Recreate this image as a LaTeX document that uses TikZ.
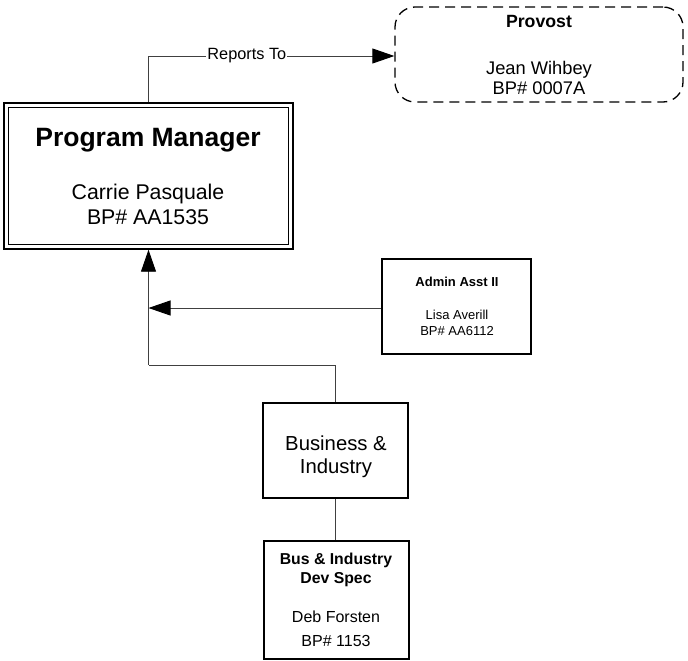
\documentclass[tikz,border=0pt]{standalone}
\usepackage{fontspec}
\setmainfont{Liberation Sans}
\usetikzlibrary{arrows.meta}
\tikzset{
  box/.style={draw=black, line width=1.6bp, inner sep=0pt},
  pmbox/.style={draw=black, line width=1.4bp, inner sep=0pt},
  provbox/.style={draw=black, line width=1.3bp, dash pattern=on 10bp off 6bp, rounded corners=20bp, inner sep=0pt},
  conn/.style={draw=black!75, line width=0.9bp},
  tip/.style={-{Triangle[length=22bp,width=15bp,color=black]}},
  txt/.style={anchor=base, inner sep=0pt, font=#1},
}
\begin{document}
\begin{tikzpicture}[x=1bp,y=-1bp]
\useasboundingbox (0,0) rectangle (688,661);
% boxes
\node[pmbox, minimum width=289bp, minimum height=146bp] (pm) at (148.5,176) {};
\draw[line width=1.4bp] ([xshift=5bp,yshift=-5bp]pm.north west) rectangle ([xshift=-5bp,yshift=5bp]pm.south east);
\node[provbox, minimum width=288bp, minimum height=95bp] (prov) at (539,54.5) {};
\node[box, minimum width=149bp, minimum height=95bp] (admin) at (456.5,306.5) {};
\node[box, minimum width=145bp, minimum height=95bp] (bi) at (335.5,450.5) {};
\node[box, minimum width=145bp, minimum height=118bp] (dev) at (336.5,600) {};
% texts
\node[txt={\fontsize{26.5bp}{30bp}\selectfont\bfseries}] (pmt) at (148,146) {Program Manager};
\node[txt={\fontsize{21.3bp}{25bp}\selectfont}] (pmn) at (148,199) {Carrie Pasquale};
\node[txt={\fontsize{21.3bp}{25bp}\selectfont}] (pmb) at (148,224) {BP\# AA1535};
\node[txt={\fontsize{17.7bp}{21bp}\selectfont\bfseries}] (prt) at (539,28) {Provost};
\node[txt={\fontsize{18.3bp}{21bp}\selectfont}] (prn) at (539,75) {Jean Wihbey};
\node[txt={\fontsize{18.3bp}{21bp}\selectfont}] (prb) at (539,95) {BP\# 0007A};
\node[txt={\fontsize{13bp}{15bp}\selectfont\bfseries}] (adt) at (457,286) {Admin Asst II};
\node[txt={\fontsize{13bp}{15bp}\selectfont}] (adn) at (457,319) {Lisa Averill};
\node[txt={\fontsize{13bp}{15bp}\selectfont}] (adb) at (457,335) {BP\# AA6112};
\node[txt={\fontsize{20.3bp}{23bp}\selectfont}] (bi1) at (336,450) {Business \&};
\node[txt={\fontsize{20.3bp}{23bp}\selectfont}] (bi2) at (336,473) {Industry};
\node[txt={\fontsize{15.8bp}{19bp}\selectfont\bfseries}] (dvt1) at (336,564) {Bus \& Industry};
\node[txt={\fontsize{15.8bp}{19bp}\selectfont\bfseries}] (dvt2) at (336,583) {Dev Spec};
\node[txt={\fontsize{16bp}{19bp}\selectfont}] (dvn) at (336,622) {Deb Forsten};
\node[txt={\fontsize{16bp}{19bp}\selectfont}] (dvb) at (336,646) {BP\# 1153};
% connectors
\draw[conn, tip] (pm.north) |- node[pos=0.70, fill=white, inner sep=1bp, font=\fontsize{16.3bp}{19bp}\selectfont] {Reports To} ([yshift=-1.5bp]prov.west);
\coordinate (j) at (pm.south |- 0,365);
\draw[conn] (bi.north) |- (j);
\draw[conn, tip] (j) -- (pm.south);
\draw[conn, tip] ([yshift=-1.5bp]admin.west) -- ([yshift=-1.5bp]admin.west -| pm.south);
\draw[conn] (bi.south) -- (bi.south |- dev.north);
\end{tikzpicture}
\end{document}
